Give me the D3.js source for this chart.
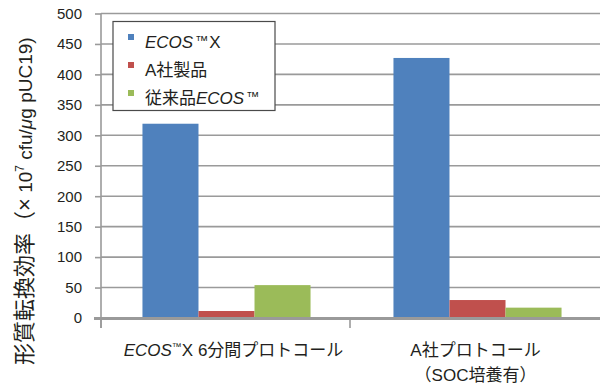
<!DOCTYPE html>
<html><head><meta charset="utf-8">
<script src="https://cdn.jsdelivr.net/npm/d3@7"></script>
<style>
html,body{margin:0;padding:0;background:#fff;}
svg{display:block;font-family:"Liberation Sans","Noto Sans CJK JP",sans-serif;}
</style></head>
<body><svg id="c" width="600" height="385"></svg>
<script>
const categories = ["cat1", "cat2"];
const series = ["ECOS™X", "A社製品", "従来品ECOS™"];
const values = {
  "ECOS™X":   [319, 427],
  "A社製品":   [11.5, 29.5],
  "従来品ECOS™": [54, 17]
};
const colors = ["#4f81bd", "#c0504d", "#9bbb59"];
const yTicks = [0, 50, 100, 150, 200, 250, 300, 350, 400, 450, 500];

const svg = d3.select("#c");
const textColor = "#231f20";
const gridColor = "#9a9a9a";

const x0 = d3.scaleBand().domain(categories).range([101, 603]).padding(0);
const x1 = d3.scaleBand().domain(series).range([0, x0.bandwidth()]).paddingInner(0).paddingOuter(0.74);
const y = d3.scaleLinear().domain([0, 500]).range([318, 13.5]);

// gridlines
svg.append("g").selectAll("line").data(yTicks.filter(d => d > 0)).join("line")
  .attr("x1", 101).attr("x2", 600)
  .attr("y1", d => y(d)).attr("y2", d => y(d))
  .attr("stroke", gridColor).attr("stroke-width", 1.6);

// y axis
const yAxis = d3.axisLeft(y).tickValues(yTicks).tickSize(6).tickPadding(13);
const gy = svg.append("g").attr("transform", "translate(101,0)").call(yAxis);
gy.select(".domain").remove();
gy.selectAll(".tick line").attr("stroke", gridColor).attr("stroke-width", 1.6);
gy.selectAll(".tick text").attr("fill", textColor).style("font-size", "15px")
  .style("font-family", "'Liberation Sans',sans-serif");
svg.append("line").attr("x1", 101).attr("x2", 101).attr("y1", y(500)).attr("y2", 328)
  .attr("stroke", gridColor).attr("stroke-width", 1.6);

// bars
const groups = svg.append("g").selectAll("g").data(categories).join("g")
  .attr("transform", d => `translate(${x0(d)},0)`);
groups.selectAll("rect").data((c, ci) => series.map((s, si) => ({s, si, v: values[s][ci]}))).join("rect")
  .attr("x", d => x1(d.s)).attr("width", x1.bandwidth())
  .attr("y", d => y(d.v)).attr("height", d => y(0) - y(d.v))
  .attr("fill", d => colors[d.si]);

// x axis
svg.append("line").attr("x1", 94).attr("x2", 600).attr("y1", 318.5).attr("y2", 318.5)
  .attr("stroke", gridColor).attr("stroke-width", 3);
const bounds = [categories.map(c => x0(c)), x0.range()[1]].flat();
svg.append("g").selectAll("line").data(bounds).join("line")
  .attr("x1", (d, i) => i === 1 ? d - 2 : d).attr("x2", (d, i) => i === 1 ? d - 2 : d).attr("y1", 318).attr("y2", 328)
  .attr("stroke", gridColor).attr("stroke-width", 1.6);

// x labels
const xl1 = svg.append("text").attr("x", x0("cat1") + x0.bandwidth() / 2 + 7).attr("y", 356)
  .attr("text-anchor", "middle").attr("fill", textColor).style("font-size", "17px");
xl1.append("tspan").style("font-style", "italic").text("ECOS");
xl1.append("tspan").style("font-size", "10px").attr("dy", -6).text("™");
xl1.append("tspan").attr("dy", 6).text("X 6分間プロトコール");

const cx2 = x0("cat2") + x0.bandwidth() / 2 - 2;
const xl2 = svg.append("text").attr("text-anchor", "middle").attr("fill", textColor).style("font-size", "17px");
xl2.append("tspan").attr("y", 356).attr("x", cx2).text("A社プロトコール");
xl2.append("tspan").attr("y", 381).attr("x", cx2).text("（SOC培養有）");

// y label
const yl = svg.append("text").attr("transform", "translate(32,365) rotate(-90)")
  .attr("fill", textColor).attr("text-anchor", "start");
yl.append("tspan").style("font-size", "22px").text("形質転換効率（×");
yl.append("tspan").style("font-size", "19px").text(" 10");
yl.append("tspan").style("font-size", "12px").attr("dy", -8).text("7");
yl.append("tspan").style("font-size", "19px").attr("dy", 8).text(" cfu/");
yl.append("tspan").style("font-size", "19px").style("font-style", "italic").text("μ");
yl.append("tspan").style("font-size", "19px").text("g pUC19)");

// legend
const lg = svg.append("g");
lg.append("rect").attr("x", 113).attr("y", 21.5).attr("width", 162).attr("height", 89)
  .attr("fill", "#fff").attr("stroke", "#4a4a4a").attr("stroke-width", 1.2);
const ly = d3.scalePoint().domain(series).range([42, 98]);
const items = lg.selectAll("g").data(series).join("g")
  .attr("transform", d => `translate(0,${ly(d)})`);
items.append("rect").attr("x", 128).attr("y", -8).attr("width", 6).attr("height", 6)
  .attr("fill", (d, i) => colors[i]);
const lt = items.append("text").attr("x", 145).attr("y", 6).attr("fill", textColor).style("font-size", "17px");
lt.each(function(d, i) {
  const t = d3.select(this);
  if (i === 0) {
    t.append("tspan").style("font-style", "italic").text("ECOS");
    t.append("tspan").style("font-size", "13px").attr("dy", -3).attr("dx", 2).text("™");
    t.append("tspan").attr("dy", 3).attr("dx", 1).text("X");
  } else if (i === 1) {
    t.text(d);
  } else {
    t.append("tspan").text("従来品");
    t.append("tspan").style("font-style", "italic").text("ECOS");
    t.append("tspan").style("font-size", "13px").attr("dy", -3).attr("dx", 2).text("™");
  }
});
</script></body></html>
